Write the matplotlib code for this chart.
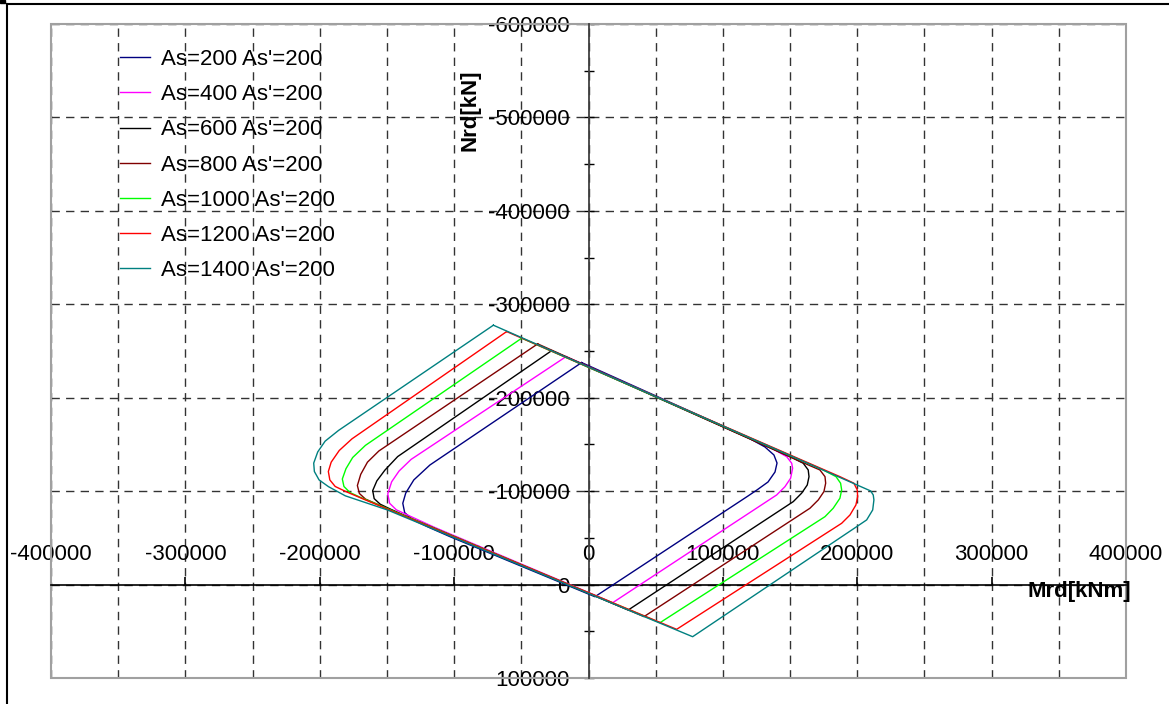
import numpy as np
import matplotlib
matplotlib.use("Agg")
import matplotlib.pyplot as plt
from matplotlib.patches import Rectangle
from matplotlib.lines import Line2D
from matplotlib.ticker import FuncFormatter

plt.rcParams["font.family"] = ["Liberation Sans", "DejaVu Sans"]
plt.rcParams["font.size"] = 16
plt.rcParams["axes.unicode_minus"] = False

# interaction curves, Mrd [kNm] / Nrd [kN]
labels = ["As=200 As'=200", "As=400 As'=200", "As=600 As'=200", "As=800 As'=200",
          "As=1000 As'=200", "As=1200 As'=200", "As=1400 As'=200"]

m_200 = [-5100, -118000, -130000, -136000, -138200, -136800, -131000, -120000, -103100,
         4800, 118700, 125400, 133600, 138800, 140300, 138000, 131300, 116400, -5100]
n_200 = [-237600, -128000, -112000, -98000, -87000, -77000, -69500, -62000, -51300,
         13000, -94800, -101300, -109800, -120500, -130100, -138700, -147300, -159100, -237600]

m_400 = [-16700, -132000, -141000, -146500, -149400, -148000, -143000, -134000, -115000,
         18000, 140000, 146200, 150400, 151900, 151200, 147500, 136300, -16700]
n_400 = [-244000, -134000, -121500, -110000, -97000, -87000, -80000, -74000, -61500,
         19400, -95900, -104800, -113800, -124500, -129900, -136900, -145900, -244000]

m_600 = [-27400, -142000, -151500, -157500, -160600, -159500, -155000, -147000, -130000,
         29600, 152400, 158600, 162800, 164100, 163500, 159800, 149900, -27400]
n_600 = [-250400, -137000, -122500, -111000, -100600, -92000, -86000, -80500, -69500,
         27200, -88800, -97800, -106600, -115500, -122700, -129900, -136900, -250400]

m_800 = [-37800, -156000, -164500, -169500, -172000, -170500, -166000, -158000, -140000,
         41300, 164800, 171000, 175200, 176500, 176000, 172200, 163500, -37800]
n_800 = [-257600, -143000, -131000, -118000, -106000, -97500, -91500, -86500, -75500,
         34300, -81700, -90600, -99500, -108500, -115500, -122700, -128100, -257600]

m_1000 = [-49700, -166000, -175500, -180500, -183200, -182000, -177500, -170000, -155000,
          53200, 176000, 182100, 187100, 188400, 187600, 184200, 174700, -49700]
n_1000 = [-263700, -149000, -136000, -124000, -113000, -105000, -98500, -93500, -84500,
          40800, -72700, -81700, -92400, -101300, -108500, -115500, -122700, -263700]

m_1200 = [-60900, -176000, -185500, -191500, -193600, -192500, -188500, -180500, -165000,
          65600, 188400, 194600, 199000, 200300, 200000, 197500, 187100, -60900]
n_1200 = [-270800, -156000, -143500, -131000, -121000, -112000, -105000, -99500, -90000,
          47900, -65600, -74500, -85200, -94100, -101300, -108500, -115500, -270800]

m_1400 = [-70800, -186000, -196000, -201500, -204500, -204000, -200500, -193500, -181000,
          -149700, 77500, 199600, 207000, 211500, 212400, 211900, 210000, -70800]
n_1400 = [-277600, -165000, -153500, -142000, -130000, -121000, -112000, -104800, -95000,
          -79900, 55800, -62000, -69200, -79900, -90600, -95900, -100200, -277600]

curves_m = [m_200, m_400, m_600, m_800, m_1000, m_1200, m_1400]
curves_n = [n_200, n_400, n_600, n_800, n_1000, n_1200, n_1400]
colors = ["#000080", "#ff00ff", "#000000", "#800000", "#00ff00", "#ff0000", "#008080"]

fig = plt.figure(figsize=(11.69, 7.04), dpi=100)
ax = fig.add_axes([51 / 1169, 26 / 704, 1075 / 1169, 654 / 704])

for m, n, c, lab in zip(curves_m, curves_n, colors, labels):
    ax.plot(m, n, color=c, lw=1.0, label=lab, zorder=3)

ax.set_xlim(-400000, 400000)
ax.set_ylim(100000, -600000)

# axes crossing at the origin
for side in ["top", "right"]:
    ax.spines[side].set_visible(False)
ax.spines["left"].set_position(("data", 0))
ax.spines["bottom"].set_position(("data", 0))
ax.spines["left"].set_color("#404040")
ax.spines["left"].set_linewidth(1.3)
ax.spines["bottom"].set_color("black")
ax.spines["bottom"].set_linewidth(1.2)
ax.add_patch(Rectangle((0, 0), 1, 1, transform=ax.transAxes, fill=False,
                       ec="#a0a0a0", lw=1.5, clip_on=False, zorder=1))

ax.set_xticks(np.arange(-400000, 400001, 100000))
ax.set_xticks(np.arange(-400000, 400001, 50000), minor=True)
ax.set_yticks(np.arange(-600000, 100001, 100000))
ax.set_yticks(np.arange(-600000, 100001, 50000), minor=True)
fmt = FuncFormatter(lambda v, p: "%d" % v)
ax.xaxis.set_major_formatter(fmt)
ax.yaxis.set_major_formatter(fmt)

ax.tick_params(axis="x", which="major", direction="in", length=6, width=1.2, pad=-29)
ax.tick_params(axis="x", which="minor", length=0)
ax.tick_params(axis="y", which="both", direction="inout", length=7.5, width=1, pad=10)

ax.grid(True, axis="x", which="both", color="#333333", lw=1, ls=(0, (6, 4.5)))
ax.grid(True, axis="y", which="major", color="#333333", lw=1, ls=(0, (6, 4.5)))
ax.set_axisbelow(True)

ax.text(0.3898, 0.8685, "Nrd[kN]", transform=ax.transAxes, rotation=90,
        ha="center", va="center", fontweight="bold", fontsize=16)
ax.text(0.957, 0.1315, "Mrd[kNm]", transform=ax.transAxes,
        ha="center", va="center", fontweight="bold", fontsize=16)

ax.legend(loc="upper left", bbox_to_anchor=(0.064, 0.962), frameon=False,
          borderpad=0, borderaxespad=0, handlelength=1.35, handletextpad=0.5,
          labelspacing=0.64, fontsize=16)

# outer frame of the original sheet
fig.add_artist(Line2D([7 / 1169, 7 / 1169], [0, 1 - 4 / 704], color="black", lw=1.5))
fig.add_artist(Line2D([7 / 1169, 1], [1 - 4 / 704, 1 - 4 / 704], color="black", lw=1.5))
fig.add_artist(Rectangle((0, 1 - 3 / 704), 5 / 1169, 3 / 704, color="black"))

fig.savefig("out.png", dpi=100)
